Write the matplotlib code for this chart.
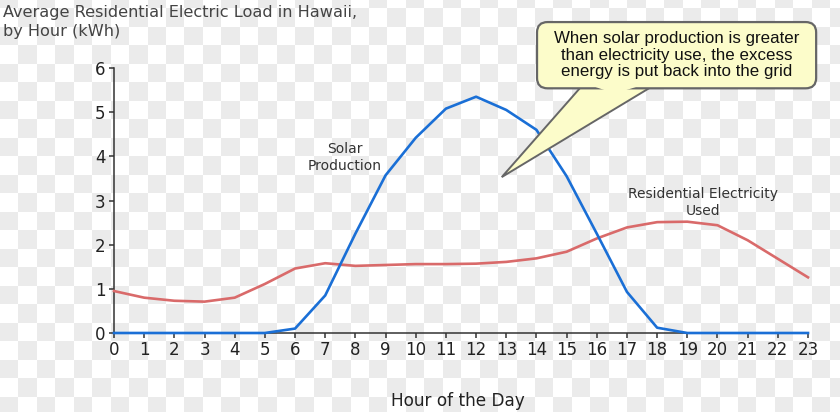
import numpy as np
import matplotlib
matplotlib.use('Agg')
from matplotlib import pyplot as plt
from matplotlib.patches import FancyBboxPatch, Polygon

hours = list(range(24))
solar = [0, 0, 0, 0, 0, 0, 0.1, 0.85, 2.25, 3.57, 4.42, 5.08, 5.35, 5.05,
         4.6, 3.55, 2.25, 0.93, 0.12, 0, 0, 0, 0, 0]
residential = [0.95, 0.8, 0.73, 0.71, 0.8, 1.11, 1.46, 1.58, 1.52, 1.54, 1.56, 1.56,
               1.57, 1.61, 1.69, 1.84, 2.14, 2.39, 2.51, 2.52, 2.44, 2.1, 1.68, 1.26]

title = 'Average Residential Electric Load in Hawaii,\nby Hour (kWh)'
callout = 'When solar production is greater\nthan electricity use, the excess\nenergy is put back into the grid'

W, H = 840, 412
fig = plt.figure(figsize=(W / 100, H / 100), dpi=100)

# checkerboard background
yy, xx = np.mgrid[0:H, 0:W]
chk = (((xx + 0.5) // 18.45).astype(int) + ((yy + 10.5) // 18.5).astype(int)) % 2
bg = np.where(chk[..., None] == 0, 0.925, 1.0) * np.ones((H, W, 3))
fig.figimage(bg, 0, 0, zorder=-10)

ax = fig.add_axes([114 / W, 1 - 333 / H, 694 / W, 265 / H])
ax.patch.set_alpha(0)

ax.plot(hours, residential, color='#d96a6a', lw=1.9, clip_on=False, zorder=3)
ax.plot(hours, solar, color='#1a6fd6', lw=1.9, clip_on=False, zorder=4)

ax.set_xlim(0, 23)
ax.set_ylim(0, 6)
ax.set_xticks(hours)
ax.set_yticks(range(7))
for s in ['top', 'right']:
    ax.spines[s].set_visible(False)
for s in ['left', 'bottom']:
    ax.spines[s].set_color('#333333')
    ax.spines[s].set_linewidth(1.1)
ax.tick_params(colors='#333333', labelcolor='#222222', labelsize=12,
               length=3.5, width=1.1, pad=2.5)

fig.text(458 / W, 1 - 401 / H, 'Hour of the Day', ha='center', va='center',
         fontsize=12.2, color='#222222')
fig.text(3 / W, 1 - 5 / H, title, ha='left', va='top', fontsize=11.6,
         color='#444444', linespacing=1.32)

ax.text(7.65, 3.98, 'Solar\nProduction', ha='center', va='center',
        fontsize=10, color='#333333', linespacing=1.3)
ax.text(19.52, 2.95, 'Residential Electricity\nUsed', ha='center', va='center',
        fontsize=10, color='#333333', linespacing=1.3)

# callout bubble
fill = '#fcfcca'
edge = '#666666'
x0, x1, y0, y1 = 14.02, 23.27, 5.54, 7.04
tail = [(15.5, y0 + 0.05), (17.85, y0 + 0.05), (12.85, 3.53)]
ax.add_patch(Polygon(tail, closed=True, facecolor=fill, edgecolor=edge,
                     lw=1.4, clip_on=False, zorder=6))
ax.add_patch(FancyBboxPatch((x0, y0), x1 - x0, y1 - y0,
                            boxstyle='round,pad=0,rounding_size=0.35',
                            mutation_aspect=1 / 1.5,
                            facecolor=fill, edgecolor=edge, lw=1.6,
                            clip_on=False, zorder=7))
ax.add_patch(Polygon([(15.57, y0 + 0.12), (17.72, y0 + 0.12), (16.6, y0 - 0.12)],
                     closed=True, facecolor=fill, edgecolor='none',
                     clip_on=False, zorder=8))
ax.text((x0 + x1) / 2, (y0 + y1) / 2, callout, ha='center', va='center',
        fontsize=12.2, family='Liberation Sans', color='#111111',
        linespacing=1.15, zorder=9)

fig.savefig('out.png', dpi=100)
